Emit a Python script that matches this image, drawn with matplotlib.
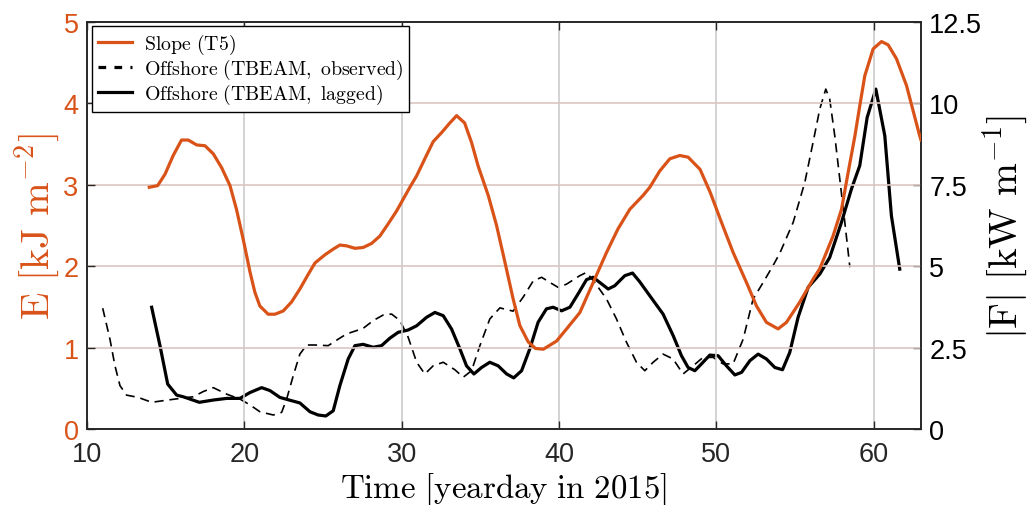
import matplotlib
matplotlib.use("Agg")
import matplotlib.pyplot as plt
from matplotlib.lines import Line2D

# ---------------- data ----------------
slope_day = [13.96, 14.49, 14.96, 15.48, 16.01, 16.44, 16.97, 17.5, 18.03, 18.56,
             19.09, 19.5, 19.93, 20.36, 20.67, 20.99, 21.52, 21.94, 22.47, 23.0,
             23.53, 24.06, 24.49, 25.12, 25.65, 26.07, 26.5, 27.03, 27.55, 28.09,
             28.61, 29.14, 29.68, 30.52, 30.95, 31.47, 32.0, 32.53, 33.06, 33.49,
             34.0, 34.44, 34.86, 35.5, 36.03, 36.56, 37.08, 37.51, 38.04, 38.5,
             39.0, 39.84, 40.48, 41.32, 42.17, 43.02, 43.75, 44.5, 45.34, 45.77,
             46.4, 47.04, 47.67, 48.2, 48.96, 49.6, 50.32, 51.06, 51.91, 52.55,
             53.18, 53.92, 54.45, 55.3, 56.14, 56.57, 57.41, 57.95, 58.37, 58.8,
             59.11, 59.43, 59.96, 60.49, 60.91, 61.44, 62.08, 62.92, 63.0]
slope_E = [2.97, 2.99, 3.13, 3.36, 3.55, 3.55, 3.49, 3.48, 3.38, 3.21,
           2.99, 2.70, 2.33, 1.93, 1.68, 1.51, 1.41, 1.41, 1.45, 1.56,
           1.72, 1.90, 2.04, 2.14, 2.21, 2.26, 2.25, 2.22, 2.23, 2.28,
           2.37, 2.52, 2.68, 2.97, 3.11, 3.32, 3.53, 3.64, 3.76, 3.85,
           3.76, 3.52, 3.23, 2.87, 2.50, 2.05, 1.60, 1.27, 1.07, 0.99,
           0.98, 1.08, 1.23, 1.43, 1.80, 2.17, 2.46, 2.70, 2.87, 2.97,
           3.17, 3.32, 3.36, 3.34, 3.19, 2.91, 2.54, 2.17, 1.80, 1.51,
           1.31, 1.23, 1.31, 1.56, 1.84, 1.97, 2.37, 2.70, 3.15, 3.60,
           3.97, 4.34, 4.67, 4.76, 4.72, 4.55, 4.22, 3.60, 3.55]

obs_day = [11.0, 11.46, 11.78, 12.1, 12.52, 13.26, 14.11, 14.85, 15.91, 16.75,
           17.39, 18.03, 18.88, 19.72, 20.36, 20.99, 21.84, 22.37, 22.69, 23.11,
           23.53, 23.96, 24.49, 25.33, 25.97, 26.5, 27.55, 28.19, 28.82, 29.36,
           29.89, 30.41, 30.95, 31.47, 32.0, 32.64, 33.38, 33.91, 34.44, 34.97,
           35.6, 36.24, 37.08, 37.72, 38.36, 38.89, 39.42, 39.94, 40.48, 41.32,
           41.75, 42.27, 43.02, 43.65, 44.29, 44.92, 45.45, 45.98, 46.61, 47.25,
           47.88, 48.52, 49.15, 49.79, 50.42, 51.06, 51.7, 52.33, 52.97, 53.6,
           54.03, 54.88, 55.62, 56.14, 56.57, 56.95, 57.2, 57.52, 57.84, 58.16,
           58.48]
obs_F = [3.71, 2.76, 1.94, 1.33, 1.04, 0.97, 0.82, 0.87, 0.94, 0.99,
         1.15, 1.27, 1.07, 0.92, 0.74, 0.53, 0.43, 0.51, 0.92, 1.64,
         2.30, 2.58, 2.58, 2.56, 2.76, 2.92, 3.09, 3.33, 3.50, 3.53,
         3.33, 2.82, 2.05, 1.69, 1.94, 2.05, 1.82, 1.59, 1.79, 2.56,
         3.38, 3.72, 3.62, 4.05, 4.55, 4.66, 4.50, 4.35, 4.45, 4.71,
         4.81, 4.50, 3.99, 3.38, 2.66, 2.05, 1.79, 2.05, 2.30, 2.15,
         1.69, 1.94, 2.20, 2.20, 2.00, 2.00, 2.76, 3.99, 4.50, 5.02,
         5.40, 6.35, 7.58, 8.80, 9.83, 10.44, 10.13, 9.01, 7.68, 6.35,
         4.97]

lag_day = [14.11, 14.64, 15.13, 15.7, 16.12, 16.54, 17.14, 18.03, 18.88, 19.72,
           20.36, 21.1, 21.63, 22.26, 23.0, 23.53, 24.17, 24.69, 25.18, 25.65,
           26.07, 26.6, 27.03, 27.55, 28.19, 28.72, 29.25, 29.78, 30.41, 30.95,
           31.58, 32.11, 32.64, 33.17, 33.7, 34.12, 34.59, 35.08, 35.6, 36.13,
           36.67, 37.12, 37.62, 38.14, 38.67, 39.2, 39.62, 40.16, 40.69, 41.21,
           41.75, 42.17, 42.59, 43.12, 43.54, 44.18, 44.67, 45.13, 45.77, 46.61,
           47.25, 47.78, 48.2, 48.63, 49.05, 49.58, 50.11, 50.64, 51.17, 51.6,
           52.13, 52.65, 53.18, 53.71, 54.2, 54.66, 55.19, 55.83, 56.57, 57.2,
           57.95, 58.58, 59.11, 59.58, 60.13, 60.7, 61.12, 61.65]
lag_F = [3.74, 2.56, 1.38, 1.04, 0.99, 0.92, 0.82, 0.89, 0.94, 0.94,
         1.12, 1.27, 1.18, 0.97, 0.87, 0.80, 0.53, 0.43, 0.40, 0.56,
         1.33, 2.15, 2.56, 2.60, 2.51, 2.56, 2.79, 2.97, 3.04, 3.17,
         3.43, 3.58, 3.48, 3.07, 2.46, 1.94, 1.69, 1.89, 2.05, 1.94,
         1.69, 1.57, 1.79, 2.46, 3.28, 3.69, 3.74, 3.63, 3.74, 4.15,
         4.59, 4.66, 4.50, 4.30, 4.40, 4.71, 4.79, 4.52, 4.09, 3.53,
         2.87, 2.25, 1.89, 1.79, 2.00, 2.27, 2.25, 1.94, 1.66, 1.74,
         2.10, 2.30, 2.15, 1.89, 1.82, 2.35, 3.43, 4.35, 4.76, 5.27,
         6.35, 7.37, 8.09, 9.57, 10.44, 9.01, 6.55, 4.91]

x_ticks = [10, 20, 30, 40, 50, 60]
e_ticks = [0, 1, 2, 3, 4, 5]
f_ticks = [0, 2.5, 5, 7.5, 10, 12.5]
f_tick_labels = ["0", "2.5", "5", "7.5", "10", "12.5"]

labels = [r"$\mathrm{Slope\ (T5)}$",
          r"$\mathrm{Offshore\ (TBEAM,\ observed)}$",
          r"$\mathrm{Offshore\ (TBEAM,\ lagged)}$"]

# ---------------- style ----------------
plt.rcParams["mathtext.fontset"] = "cm"
plt.rcParams["font.family"] = ["Liberation Sans", "DejaVu Sans"]

ORANGE = "#D95319"
AX_COL = "#262626"
HGRID = "#dac6c0"
VGRID = "#cccccc"

fig = plt.figure(figsize=(10.34, 5.06), dpi=100)
ax = fig.add_axes([0.0841, 0.1502, 0.8066, 0.8043])
ax2 = ax.twinx()

ax.set_xlim(10, 63)
ax.set_ylim(0, 5)
ax2.set_ylim(0, 12.5)

# grid
for xv in x_ticks[1:]:
    ax.axvline(xv, color=VGRID, lw=1.2, zorder=0)
for yv in e_ticks[1:-1]:
    ax.axhline(yv, color=HGRID, lw=1.2, zorder=0)

ax.set_zorder(ax2.get_zorder() + 1)
ax.patch.set_visible(False)

l1, = ax.plot(slope_day, slope_E, color=ORANGE, lw=2.3, zorder=3)
l2, = ax2.plot(obs_day, obs_F, color="black", lw=1.2, ls=(0, (5.5, 3.5)))
l3, = ax2.plot(lag_day, lag_F, color="black", lw=2.3)

# legend proxy for the dashed line (drawn bolder in the reference legend)
l2_leg = Line2D([], [], color="black", lw=2.3, ls=(0.0, (2.4, 2.6)))

ax.set_xticks(x_ticks)
ax.set_yticks(e_ticks)
ax2.set_yticks(f_ticks)
ax2.set_yticklabels(f_tick_labels)

ax.tick_params(axis="x", direction="in", length=6, width=1.0, colors=AX_COL,
               labelsize=19.5, top=True, pad=9)
ax.tick_params(axis="y", direction="in", length=6, width=1.0, colors=AX_COL,
               labelcolor=ORANGE, labelsize=19.5, right=False, pad=6)
ax2.tick_params(axis="y", direction="in", length=6, width=1.0, colors=AX_COL,
                labelcolor="black", labelsize=19.5, pad=6)
for a in (ax, ax2):
    for s in a.spines.values():
        s.set_color(AX_COL)
        s.set_linewidth(1.2)

xl = ax.set_xlabel(r"$\mathrm{Time\ [yearday\ in\ 2015]}$", fontsize=24, labelpad=0)
yl = ax.set_ylabel(r"$\mathrm{E\ [kJ\ m^{-2}]}$", fontsize=25, color=ORANGE, labelpad=6)
yr = ax2.set_ylabel(r"$\mathrm{|F|\ [kW\ m^{-1}]}$", fontsize=25, color="black",
                    rotation=90, labelpad=6)

leg = ax.legend([l1, l2_leg, l3], labels, loc="upper left",
                bbox_to_anchor=(0.006, 0.99), borderaxespad=0,
                fontsize=14.3, frameon=True, fancybox=False, framealpha=1,
                edgecolor="black", handlelength=1.7, handletextpad=0.6,
                labelspacing=0.05, borderpad=0.3)
leg.get_frame().set_linewidth(1.0)
leg.set_zorder(10)

# fit label sizes / positions to the reference layout (pixels)
H = fig.get_figheight() * fig.dpi
for _ in range(3):
    fig.canvas.draw()
    r = fig.canvas.get_renderer()
    e_l = yl.get_window_extent(r)
    e_r = yr.get_window_extent(r)
    e_x = xl.get_window_extent(r)
    yl.set_fontsize(yl.get_fontsize() * 187.0 / e_l.height)
    yr.set_fontsize(yr.get_fontsize() * 224.0 / e_r.height)
    xl.set_fontsize(xl.get_fontsize() * 327.0 / e_x.width)
    fig.canvas.draw()
    e_l = yl.get_window_extent(r)
    e_r = yr.get_window_extent(r)
    e_x = xl.get_window_extent(r)
    ax.yaxis.labelpad += (e_l.x0 - 13.0) * 72.0 / fig.dpi
    ax2.yaxis.labelpad += (1030.0 - e_r.x1) * 72.0 / fig.dpi
    ax.xaxis.labelpad += (e_x.y1 - (H - 471.0)) * 72.0 / fig.dpi

fig.savefig("out.png", dpi=100)
